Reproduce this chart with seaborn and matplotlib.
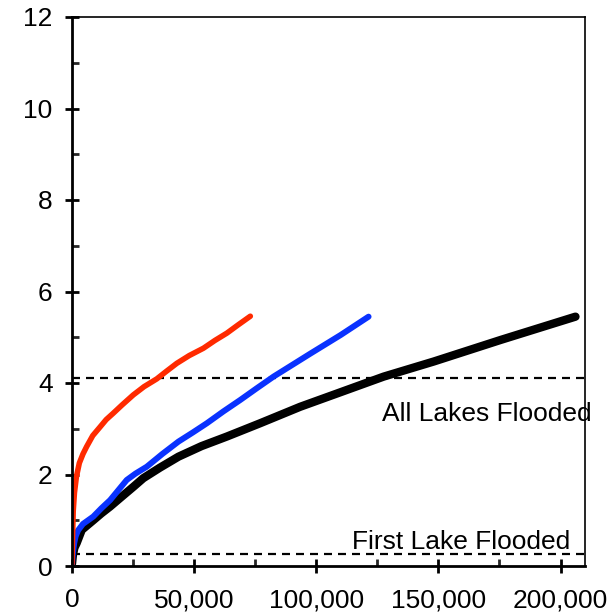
import matplotlib
matplotlib.use("Agg")
import matplotlib.pyplot as plt
import seaborn as sns
import pandas as pd
from matplotlib.ticker import MultipleLocator, FuncFormatter

# ---- data ----
red_x = [0, 200, 500, 1000, 1800, 3000, 4500, 6000, 8500, 11500, 14000, 16900, 20500,
         25100, 29500, 34700, 38500, 42900, 48000, 53800, 58500, 63400, 68000, 73000]
red_y = [0.05, 0.6, 1.2, 1.6, 1.95, 2.25, 2.45, 2.61, 2.85, 3.04, 3.2, 3.34, 3.52,
         3.74, 3.92, 4.09, 4.25, 4.43, 4.6, 4.76, 4.93, 5.09, 5.27, 5.46]

blue_x = [0, 400, 900, 1500, 2500, 4500, 8700, 12000, 15600, 19000, 22400, 26000, 30600,
          37000, 43600, 49500, 55200, 62000, 68900, 75500, 82500, 90000, 97500, 110000, 121400]
blue_y = [0.05, 0.3, 0.5, 0.65, 0.78, 0.92, 1.08, 1.26, 1.44, 1.66, 1.88, 2.02, 2.17,
          2.45, 2.72, 2.92, 3.12, 3.38, 3.63, 3.88, 4.14, 4.39, 4.64, 5.05, 5.45]

black_x = [0, 400, 1000, 1900, 4000, 8700, 12000, 15600, 20000, 25100, 29200, 36000,
           43600, 53000, 63400, 77000, 93400, 110000, 127600, 148100, 175400, 206100]
black_y = [0.05, 0.25, 0.4, 0.5, 0.79, 1.0, 1.15, 1.30, 1.50, 1.73, 1.92, 2.15,
           2.39, 2.62, 2.83, 3.12, 3.48, 3.80, 4.14, 4.47, 4.94, 5.45]

thresholds = [4.1, 0.27]
threshold_labels = ["All Lakes Flooded", "First Lake Flooded"]

x_ticks = [0, 50000, 100000, 150000, 200000]
y_ticks = [0, 2, 4, 6, 8, 10, 12]

sns.set_theme(style="ticks")
plt.rcParams['font.family'] = ['Liberation Sans', 'DejaVu Sans']

fig = plt.figure(figsize=(6.12, 6.16), dpi=100)
ax = fig.add_axes([72/612, 1-566/616, (585-72)/612, (566-17)/616])

df = pd.concat([
    pd.DataFrame({"x": red_x, "y": red_y, "s": "red"}),
    pd.DataFrame({"x": blue_x, "y": blue_y, "s": "blue"}),
    pd.DataFrame({"x": black_x, "y": black_y, "s": "black"}),
])
widths = {"red": 4.0, "blue": 4.3, "black": 6.0}
colors = {"red": "#FF2A00", "blue": "#0A32FF", "black": "#000000"}
for name in ["black", "blue", "red"]:
    sub = df[df.s == name]
    sns.lineplot(data=sub, x="x", y="y", ax=ax, color=colors[name],
                 linewidth=widths[name], sort=False, estimator=None,
                 solid_capstyle="round", solid_joinstyle="round", legend=False)

for t in thresholds:
    ax.axhline(t, color="black", linewidth=1.6, linestyle=(0, (3.6, 2.7)), zorder=1)

ax.text(170000, 3.33, threshold_labels[0], fontsize=19, ha="center", va="center",
        color="black", clip_on=False)
ax.text(159400, 0.53, threshold_labels[1], fontsize=19, ha="center", va="center",
        color="black", clip_on=False)

ax.set_xlim(0, 210000)
ax.set_ylim(0, 12)
ax.set_xticks(x_ticks)
ax.set_yticks(y_ticks)
ax.xaxis.set_major_formatter(FuncFormatter(lambda v, p: f"{int(v):,}"))
ax.xaxis.set_minor_locator(MultipleLocator(25000))
ax.yaxis.set_minor_locator(MultipleLocator(1))
ax.set_xlabel("")
ax.set_ylabel("")

for s in ax.spines.values():
    s.set_visible(True)
    s.set_color("black")
ax.spines["left"].set_linewidth(2.0)
ax.spines["bottom"].set_linewidth(2.0)
ax.spines["top"].set_linewidth(1.2)
ax.spines["right"].set_linewidth(1.2)

ax.tick_params(axis="both", which="major", direction="inout", length=10, width=2,
               labelsize=19, colors="black")
ax.tick_params(axis="both", which="minor", direction="in", length=5, width=2)
ax.tick_params(axis="x", which="major", pad=11)
ax.tick_params(axis="y", which="major", pad=9)

fig.savefig("out.png", dpi=100)
